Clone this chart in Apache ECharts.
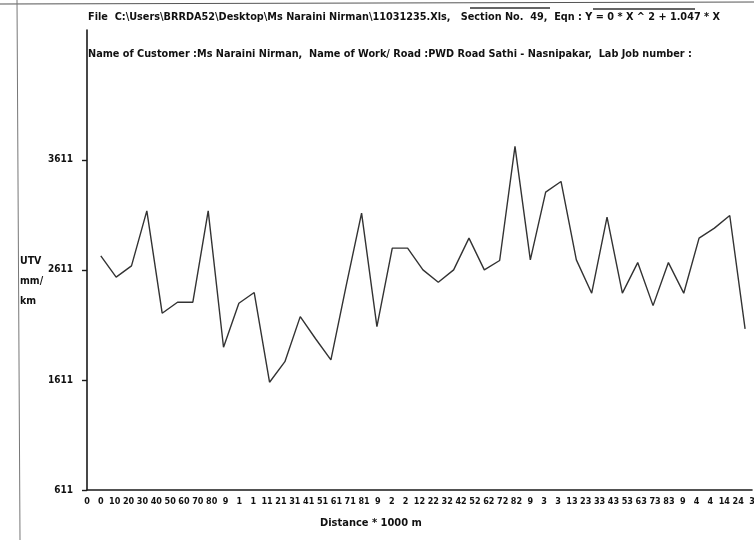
<!DOCTYPE html>
<html>
<head>
<meta charset="utf-8">
<script src="https://cdn.jsdelivr.net/npm/echarts@6/dist/echarts.min.js"></script>
<style>
html,body{margin:0;padding:0;background:#fff;}
#chart{width:754px;height:540px;}
</style>
</head>
<body>
<div id="chart"></div>
<script>
// Tick labels on the distance axis, as printed
const xLabels = ['0','0','10','20','30','40','50','60','70','80','9','1','1','11','21','31','41','51','61','71','81','9','2','2','12','22','32','42','52','62','72','82','9','3','3','13','23','33','43','53','63','73','83','9','4','4','14','24','3'];
// Station index of each reading
const stations = [0,1,2,3,4,5,6,7,8,9,10,11,12,13,14,15,16,17,18,19,20,21,22,23,24,25,26,27,28,29,30,31,32,33,34,35,36,37,38,39,40,41,42];
// UTV (mm/km) readings
const utv = [2738,2545,2647,3147,2217,2317,2317,3147,1908,2308,2405,1590,1777,2186,1985,1793,2470,3126,2096,2808,2808,2611,2499,2611,2899,2611,2696,3732,2702,3317,3414,2702,2399,3090,2399,2677,2286,2677,2399,2899,2990,3105,2075];
const yTicks = [611,1611,2611,3611];

const FONT = "'Liberation Sans Narrow','DejaVu Sans Condensed',sans-serif";
const chart = echarts.init(document.getElementById('chart'));
chart.setOption({
  backgroundColor:'#ffffff',
  animation:false,
  grid:{left:87,right:2,top:30,bottom:50,outerBoundsMode:'none',containLabel:false},
  xAxis:[
    {type:'category',data:xLabels,boundaryGap:false,position:'bottom',
     axisLine:{onZero:false,lineStyle:{color:'#1a1a1a',width:1.6}},
     axisTick:{show:false},
     axisLabel:{interval:0,hideOverlap:false,color:'#111',fontFamily:FONT,fontWeight:'bold',fontSize:9,margin:7},
     splitLine:{show:false}},
    {type:'value',show:false,min:-0.9,max:42.45}
  ],
  yAxis:{type:'value',min:611,max:4790,interval:1000,
     axisLine:{show:true,onZero:false,lineStyle:{color:'#1a1a1a',width:1.6}},
     axisTick:{show:true,inside:false,length:5,customValues:yTicks,lineStyle:{color:'#1a1a1a',width:1.4}},
     axisLabel:{color:'#111',fontFamily:FONT,fontWeight:'bold',fontSize:10,margin:14,customValues:yTicks,
       formatter:function(v){return yTicks.indexOf(v)>=0?String(v):'';}},
     splitLine:{show:false}},
  series:[{type:'line',xAxisIndex:1,data:stations.map((s,i)=>[s,utv[i]]),
     symbol:'none',lineStyle:{color:'#333',width:1.4}}],
  graphic:[
    {type:'line',shape:{x1:0,y1:4,x2:754,y2:2},style:{stroke:'#555',lineWidth:1}},
    {type:'line',shape:{x1:17,y1:0,x2:20,y2:540},style:{stroke:'#777',lineWidth:1}},
    {type:'line',shape:{x1:470,y1:8,x2:550,y2:8},style:{stroke:'#333',lineWidth:1.5}},
    {type:'line',shape:{x1:593,y1:9,x2:695,y2:9},style:{stroke:'#333',lineWidth:1.5}},
    {type:'text',left:88,top:12,style:{text:'File  C:\\Users\\BRRDA52\\Desktop\\Ms Naraini Nirman\\11031235.Xls,   Section No.  49,  Eqn : Y = 0 * X ^ 2 + 1.047 * X',fill:'#111',font:'bold 10.8px '+FONT}},
    {type:'text',left:88,top:49,style:{text:'Name of Customer :Ms Naraini Nirman,  Name of Work/ Road :PWD Road Sathi - Nasnipakar,  Lab Job number :',fill:'#111',font:'bold 10.8px '+FONT}},
    {type:'text',left:20,top:251,style:{text:'UTV\nmm/\nkm',fill:'#111',font:'bold 10.5px '+FONT,lineHeight:20}},
    {type:'text',left:320,top:518,style:{text:'Distance * 1000 m',fill:'#111',font:'bold 11px '+FONT}}
  ]
});
</script>
</body>
</html>
